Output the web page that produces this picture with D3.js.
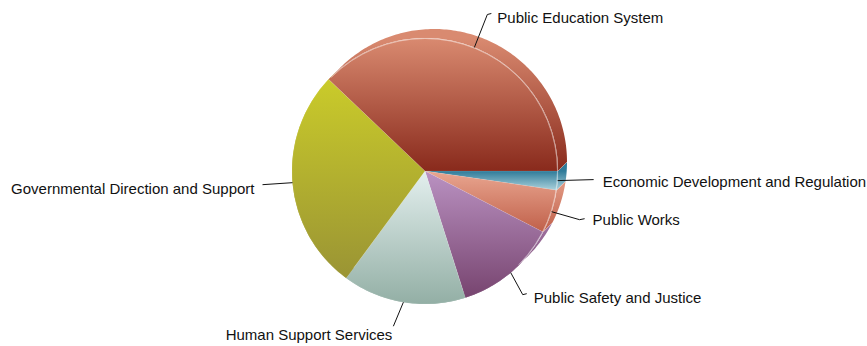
<!DOCTYPE html>
<html>
<head>
<meta charset="utf-8">
<script src="https://cdn.jsdelivr.net/npm/d3@7"></script>
<style>
  html, body { margin: 0; padding: 0; background: #ffffff; }
  svg { display: block; }
  text { font-family: "Liberation Sans", Arial, sans-serif; font-size: 15px; fill: #111; }
</style>
</head>
<body>
<svg id="chart" width="867" height="346"></svg>
<script>
// Budget shares by function (percent), clockwise from 3 o'clock
const categories = [
  "Economic Development and Regulation",
  "Public Works",
  "Public Safety and Justice",
  "Human Support Services",
  "Governmental Direction and Support",
  "Public Education System"
];
const shares = [2.3, 5.3, 12.5, 15.0, 27.0, 37.9];

// Vertical gradient stops per slice: [top colour, bottom colour]
const topColors    = ["#2f7b99", "#e9a690", "#ba92c2", "#e3efee", "#cacb2a", "#d98a70"];
const bottomColors = ["#abd2dc", "#c0604a", "#77446f", "#93afa5", "#9a9434", "#892a1c"];

// Leader layout: elbow offset from rim point, tail length, text offset from tail end, anchor
const labelLayout = [
  { ex: 36,  ey: -1,  tail: 0,  tx: 9,   ty: 7,  anchor: "start" },
  { ex: 28,  ey: 8,   tail: 5,  tx: 8,   ty: 6,  anchor: "start" },
  { ex: 12,  ey: 22,  tail: 4,  tx: 7,   ty: 9,  anchor: "start" },
  { ex: -10, ey: 24,  tail: 0,  tx: -1,  ty: 14, anchor: "end" },
  { ex: -30, ey: 2,   tail: 0,  tx: -8,  ty: 9,  anchor: "end" },
  { ex: 13,  ey: -33, tail: 4,  tx: 6,   ty: 9,  anchor: "start" }
];

const cx = 425, cy = 171, radius = 133;
const depth = { x: 9, y: -9 };   // extrusion of the pie body toward the upper right

const svg = d3.select("#chart");
const defs = svg.append("defs");
const body = svg.append("g").attr("transform", `translate(${cx},${cy})`);

const pie = d3.pie().sort(null).value(d => d)
  .startAngle(Math.PI / 2).endAngle(Math.PI / 2 + 2 * Math.PI);
const arcs = pie(shares);
const arcGen = d3.arc().innerRadius(0).outerRadius(radius);

const pt = (a, r) => [r * Math.sin(a), -r * Math.cos(a)];

// One vertical gradient per slice, spanning the slice's own height
arcs.forEach((d, i) => {
  const n = 120;
  const ys = [0];
  for (let k = 0; k <= n; k++) {
    const a = d.startAngle + (d.endAngle - d.startAngle) * k / n;
    ys.push(pt(a, radius)[1]);
  }
  const grad = defs.append("linearGradient")
    .attr("id", "grad" + i)
    .attr("gradientUnits", "userSpaceOnUse")
    .attr("x1", 0).attr("x2", 0)
    .attr("y1", d3.min(ys)).attr("y2", d3.max(ys));
  grad.append("stop").attr("offset", "0%").attr("stop-color", topColors[i]);
  grad.append("stop").attr("offset", "100%").attr("stop-color", bottomColors[i]);
});

// Side band of each slice: rim arc swept along the extrusion
function sidePath(d) {
  const steps = Math.max(4, Math.ceil((d.endAngle - d.startAngle) / (Math.PI / 180)));
  const front = [], back = [];
  for (let k = 0; k <= steps; k++) {
    const a = d.startAngle + (d.endAngle - d.startAngle) * k / steps;
    const p = pt(a, radius);
    front.push(p);
    back.push([p[0] + depth.x, p[1] + depth.y]);
  }
  return "M" + front.map(p => p.join(",")).join("L") +
         "L" + back.reverse().map(p => p.join(",")).join("L") + "Z";
}

body.selectAll("path.side")
  .data(arcs)
  .join("path")
  .attr("class", "side")
  .attr("d", sidePath)
  .attr("fill", (d, i) => `url(#grad${i})`);

// Light edges where the sides meet
body.selectAll("line.seam")
  .data(arcs)
  .join("line")
  .attr("class", "seam")
  .each(function (d) {
    const p = pt(d.startAngle, radius);
    d3.select(this)
      .attr("x1", p[0]).attr("y1", p[1])
      .attr("x2", p[0] + depth.x).attr("y2", p[1] + depth.y);
  })
  .attr("stroke", "rgba(255,255,255,0.35)")
  .attr("stroke-width", 0.7);

// Front faces
body.selectAll("path.face")
  .data(arcs)
  .join("path")
  .attr("class", "face")
  .attr("d", arcGen)
  .attr("fill", (d, i) => `url(#grad${i})`)
  .attr("stroke", "rgba(255,255,255,0.15)")
  .attr("stroke-width", 0.6);

// Faint highlight along the visible front rim
body.append("path")
  .attr("d", d3.arc()({ innerRadius: radius - 0.5, outerRadius: radius - 0.5,
                        startAngle: -Math.PI / 4, endAngle: 3 * Math.PI / 4 }))
  .attr("fill", "none")
  .attr("stroke", "rgba(255,255,255,0.38)")
  .attr("stroke-width", 0.7);

// Leader lines and labels
const labels = body.selectAll("g.label")
  .data(arcs)
  .join("g")
  .attr("class", "label");

labels.each(function (d, i) {
  const L = labelLayout[i];
  const mid = (d.startAngle + d.endAngle) / 2;
  const p = pt(mid, radius);
  const e = [p[0] + L.ex, p[1] + L.ey];
  const dir = L.anchor === "start" ? 1 : -1;
  const f = [e[0] + dir * L.tail, e[1] - (L.tail ? 1 : 0)];
  const sel = d3.select(this);
  sel.append("path")
    .attr("d", d3.line()([p, e, f]))
    .attr("fill", "none")
    .attr("stroke", "#111")
    .attr("stroke-width", 1);
  sel.append("text")
    .attr("x", f[0] + L.tx)
    .attr("y", f[1] + L.ty)
    .attr("text-anchor", L.anchor)
    .text(categories[i]);
});
</script>
</body>
</html>
